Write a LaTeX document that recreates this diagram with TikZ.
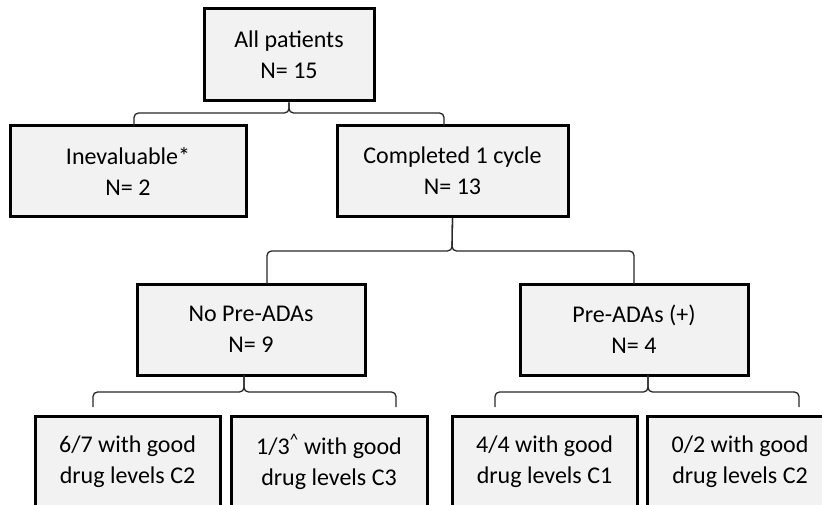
\documentclass[tikz,border=0pt]{standalone}
\usepackage{fontspec}
\setmainfont{Carlito}
\definecolor{boxgray}{HTML}{F2F2F2}
\definecolor{linegray}{HTML}{262626}
\begin{document}
\begin{tikzpicture}[x=1pt,y=-1pt,
  box/.style={draw=black, line width=3pt, fill=boxgray, minimum height=91pt,
    align=center, inner sep=0pt, font=\fontsize{24}{31}\selectfont},
  brace/.style={draw=linegray, line width=1.3pt, rounded corners=4.5pt}]
\useasboundingbox (0,0) rectangle (822,505);
\clip (0,0) rectangle (822,505);
% boxes
\node[box, minimum width=170pt, minimum height=92pt] (top) at (289,55) {All patients\\N= 15};
\node[box, minimum width=236pt] (inev) at (128,171) {Inevaluable*\\N= 2};
\node[box, minimum width=231pt] (comp) at (452.5,171) {Completed 1 cycle\\N= 13};
\node[box, minimum width=228pt] (nopre) at (251,329.5) {No Pre-ADAs\\N= 9};
\node[box, minimum width=228pt] (pre) at (634,329.5) {Pre-ADAs (+)\\N= 4};
\node[box, minimum width=185pt] (b1) at (127.5,461.5) {6/7 with good\\drug levels C2};
\node[box, minimum width=196pt] (b2) at (329,461.5) {1/3\textsuperscript{\textasciicircum} with good\\drug levels C3};
\node[box, minimum width=185pt] (b3) at (544.5,461.5) {4/4 with good\\drug levels C1};
\node[box, minimum width=186pt] (b4) at (740,461.5) {0/2 with good\\drug levels C2};
% brace coordinates
\coordinate (m1) at (289,113);
\coordinate (l1) at (134,126);
\coordinate (r1) at (444,126);
\coordinate (m2) at (452,251);
\coordinate (l2) at (267,284);
\coordinate (r2) at (634,284);
\coordinate (s3) at (244,375);
\coordinate (m3) at (244,392);
\coordinate (l3) at (93,407);
\coordinate (r3) at (396,407);
\coordinate (s4) at (648,375);
\coordinate (m4) at (648,392);
\coordinate (l4) at (495,407);
\coordinate (r4) at (799,407);
% braces
\draw[brace] (l1) |- (m1) -- (top.south);
\draw[brace] (r1) |- (m1) -- (top.south);
\draw[brace] (l2) |- (m2) -- (comp.south);
\draw[brace] (r2) |- (m2) -- (comp.south);
\draw[brace] (l3) |- (m3) -- (s3);
\draw[brace] (r3) |- (m3) -- (s3);
\draw[brace] (l4) |- (m4) -- (s4);
\draw[brace] (r4) |- (m4) -- (s4);
\end{tikzpicture}
\end{document}
